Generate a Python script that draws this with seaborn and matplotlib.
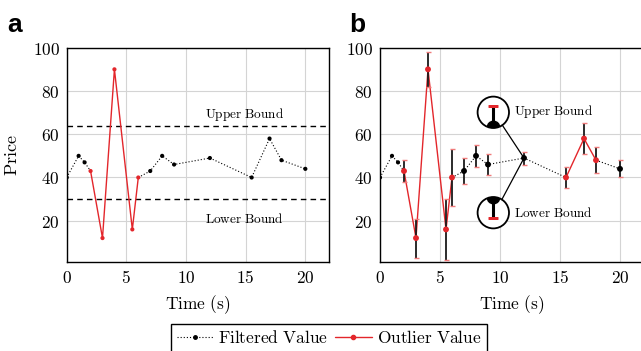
import numpy as np
import pandas as pd
import seaborn as sns
import matplotlib
matplotlib.use("Agg")
from matplotlib import pyplot as plt
from matplotlib.patches import Circle, ConnectionPatch
from matplotlib.lines import Line2D
from matplotlib.ticker import FuncFormatter

# price series (shared by both panels)
time = [0, 1, 1.5, 2, 3, 4, 5.5, 6, 7, 8, 9, 12, 15.5, 17, 18, 20]
price = [40, 50, 47, 43, 12, 90, 16, 40, 43, 50, 46, 49, 40, 58, 48, 44]

# stretches flagged as outliers in each panel (start, end time)
outliers_a = [(2, 6)]
outliers_b = [(2, 6), (15.5, 18)]

# panel a bounds
upper_bound = 64
lower_bound = 30

# panel b error bars
err_time = [2, 3, 4, 5.5, 6, 7, 8, 9, 12, 15.5, 17, 18, 20]
err_mid = [43, 12, 90, 16, 40, 43, 50, 46, 49, 40, 58, 48, 44]
err_low = [38, 3, 82, 2, 27, 37, 45, 41, 46, 35, 51, 42, 40]
err_high = [48, 21, 98, 30, 53, 49, 55, 51, 52, 45, 65, 54, 48]

RED = "#e3262b"
CAP = "#f07a7a"
W, H = 641, 351

sns.set_theme(style="whitegrid")
plt.rcParams.update({
    "mathtext.fontset": "cm",
    "text.color": "black",
    "axes.labelcolor": "black",
    "axes.edgecolor": "black",
    "axes.linewidth": 1.0,
    "grid.color": "#d4d4d4",
    "grid.linewidth": 0.8,
    "xtick.major.size": 0,
    "ytick.major.size": 0,
})


def m(s):
    return "$\\mathrm{" + s.replace(" ", "\\ ") + "}$"


def in_span(t, spans):
    return any(a <= t <= b for a, b in spans)


def segments(spans):
    rows = []
    seg, prev = 0, None
    for i in range(len(time) - 1):
        t0, t1 = time[i], time[i + 1]
        kind = "out" if in_span(t0, spans) and in_span(t1, spans) else "filt"
        if kind != prev:
            seg += 1
            prev = kind
        rows.append(dict(t=t0, p=price[i], kind=kind, seg=seg))
        rows.append(dict(t=t1, p=price[i + 1], kind=kind, seg=seg))
    return pd.DataFrame(rows).drop_duplicates()


def draw_series(ax, spans, big=None):
    df = segments(spans)
    for _, g in df.groupby("seg"):
        if g["kind"].iloc[0] == "out":
            sns.lineplot(data=g, x="t", y="p", color=RED, lw=1.0, sort=False,
                         estimator=None, ax=ax, zorder=3)
        else:
            sns.lineplot(data=g, x="t", y="p", color="black", lw=0.8,
                         linestyle=(0, (1, 1.8)), sort=False, estimator=None,
                         ax=ax, zorder=3)
    pts = pd.DataFrame({"t": time, "p": price})
    pts["kind"] = ["out" if in_span(t, spans) else "filt" for t in time]
    big = big or []
    pts["size"] = [18 if t in big else 9 for t in time]
    sns.scatterplot(data=pts, x="t", y="p", hue="kind",
                    palette={"out": RED, "filt": "black"}, size="size",
                    sizes={9: 9, 18: 18}, edgecolor="none", legend=False,
                    ax=ax, zorder=5)


def style_axes(ax):
    ax.set_xlim(0, 22)
    ax.set_ylim(0.8, 100)
    ax.set_xticks([0, 5, 10, 15, 20])
    ax.set_yticks([20, 40, 60, 80, 100])
    fmt = FuncFormatter(lambda v, p: f"${v:g}$")
    ax.xaxis.set_major_formatter(fmt)
    ax.yaxis.set_major_formatter(fmt)
    ax.tick_params(labelsize=12.5, pad=5, colors="black")
    for s in ax.spines.values():
        s.set_color("black")
    ax.set_xlabel(m("Time (s)"), fontsize=12.5, labelpad=4)
    ax.set_ylabel("")


fig = plt.figure(figsize=(W / 100, H / 100), dpi=100)
ax_a = fig.add_axes([66.7 / W, 1 - 262.3 / H, 262.5 / W, 214.6 / H])
ax_b = fig.add_axes([380 / W, 1 - 262.3 / H, 264 / W, 214.6 / H])

# panel a
draw_series(ax_a, outliers_a)
ax_a.axhline(upper_bound, color="black", lw=1.0, ls=(0, (4, 3)), zorder=2)
ax_a.axhline(lower_bound, color="black", lw=1.0, ls=(0, (4, 3)), zorder=2)
ax_a.text(14.9, 69.3, m("Upper Bound"), fontsize=9.5, ha="center", va="center")
ax_a.text(14.9, 20.8, m("Lower Bound"), fontsize=9.5, ha="center", va="center")
style_axes(ax_a)
ax_a.set_ylabel(m("Price"), fontsize=13, labelpad=8)

# panel b
mid = np.array(err_mid)
yerr = [mid - np.array(err_low), np.array(err_high) - mid]
eb = ax_b.errorbar(err_time, err_mid, yerr=yerr, fmt="none", ecolor="#1a1a1a",
                   elinewidth=1.3, capsize=1.8, capthick=1.0, zorder=4)
for cap in eb[1]:
    cap.set_markeredgecolor(CAP)
draw_series(ax_b, outliers_b, big=err_time)
style_axes(ax_b)


def magnifier(cx, cy, r, ylim, angle):
    ax_in = fig.add_axes([(cx - r) / W, 1 - (cy + r) / H, 2 * r / W, 2 * r / H])
    ax_in.set_xlim(11.85, 12.15)
    ax_in.set_ylim(ylim)
    ax_in.axis("off")
    bg = Circle((0.5, 0.5), 0.5, transform=ax_in.transAxes, fc="white",
                ec="none", zorder=0)
    ax_in.add_patch(bg)
    e = ax_in.errorbar([12], [49], yerr=[[3], [3]], fmt="o", color="black",
                       ms=9, elinewidth=2.2, capsize=3.6, capthick=2.0, zorder=3)
    for cap in e[1]:
        cap.set_markeredgecolor(RED)
    for art in [e[0]] + list(e[1]) + list(e[2]):
        art.set_clip_path(bg)
    ring = Circle((0.5, 0.5), 0.5, transform=ax_in.transAxes, fc="none",
                  ec="black", lw=1.3, zorder=6, clip_on=False)
    ax_in.add_patch(ring)
    a = np.deg2rad(angle)
    con = ConnectionPatch(xyA=(0.5 + 0.5 * np.cos(a), 0.5 + 0.5 * np.sin(a)),
                          coordsA=ax_in.transAxes, xyB=(12, 49),
                          coordsB=ax_b.transData, color="black", lw=0.9)
    fig.add_artist(con)
    return ax_in


magnifier(493.3, 112.3, 15.7, (48.85, 53.35), -55)
magnifier(493.3, 212.7, 15.7, (44.47, 48.96), 57)
ax_b.text(11.2, 70.3, m("Upper Bound"), fontsize=9.5, ha="left", va="center")
ax_b.text(11.2, 23.6, m("Lower Bound"), fontsize=9.5, ha="left", va="center")

# panel letters
fig.text(7 / W, 1 - 32 / H, "a", fontsize=19, fontweight="bold",
         family="Liberation Sans", va="baseline", color="black")
fig.text(349 / W, 1 - 32 / H, "b", fontsize=19, fontweight="bold",
         family="Liberation Sans", va="baseline", color="black")

handles = [
    Line2D([], [], color="black", lw=0.8, ls=(0, (1, 1.8)), marker="o", ms=2.5),
    Line2D([], [], color=RED, lw=1.0, marker="o", ms=3),
]
fig.legend(handles, [m("Filtered Value"), m("Outlier Value")],
           loc="upper center", bbox_to_anchor=(329 / W, 1 - 324 / H), ncol=2,
           fontsize=12.5, frameon=True, fancybox=False, edgecolor="black",
           framealpha=1, handlelength=2.1, handletextpad=0.3,
           columnspacing=0.4, borderaxespad=0, borderpad=0.3)

fig.savefig("out.png", dpi=100)
